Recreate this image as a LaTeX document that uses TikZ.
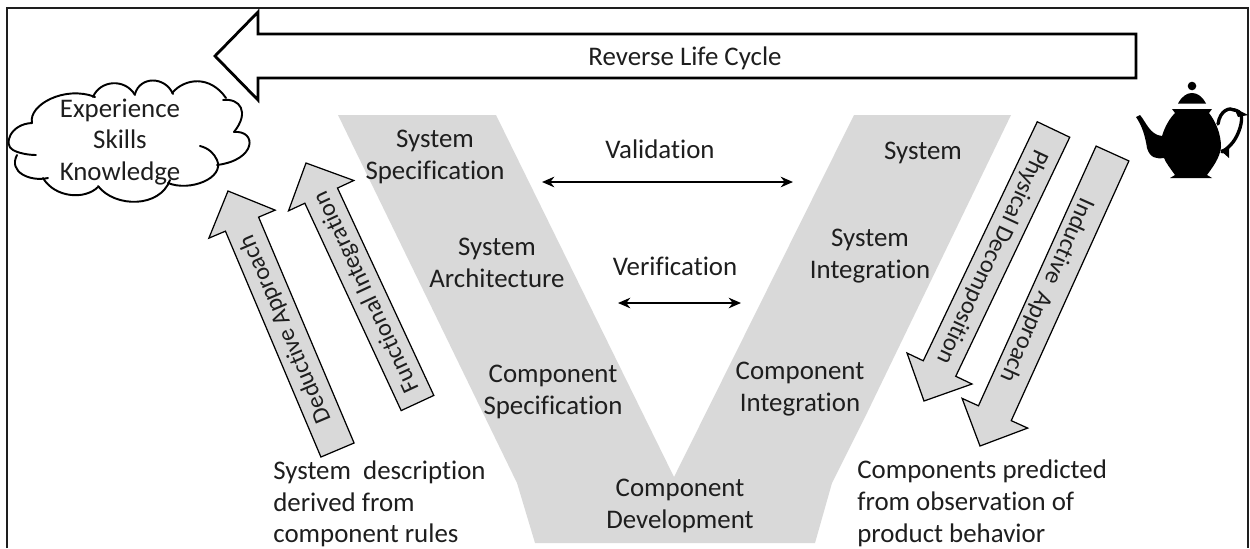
\documentclass[tikz,border=0pt]{standalone}
\usepackage{fontspec}
\setmainfont[Ligatures=CommonOff]{Carlito}
\usetikzlibrary{calc,arrows.meta}
\definecolor{vgrey}{HTML}{D9D9D9}
\definecolor{inkdark}{HTML}{1E1E1E}
\tikzset{
    lbl/.style={font=\fontsize{15.3}{18.1}\selectfont, text=inkdark, align=center, inner sep=0pt},
    lblleft/.style={lbl, align=left, anchor=west},
    lblslant/.style={lbl, font=\fontsize{13.9}{15}\selectfont},
    twohead/.style={{Stealth[length=7pt,width=6pt]}-{Stealth[length=7pt,width=6pt]}, line width=1.1pt, color=black},
    lobe/.style={line width=1.1pt, color=black, line cap=round},
}
\begin{document}
\begin{tikzpicture}[x=0.02cm, y=-0.02cm]

    \useasboundingbox (0,0) rectangle (1250,548);

    % Freccia grigia: coda, punta
    \newcommand{\greyarrow}[3]{
        \coordinate (#1-t) at #2;
        \coordinate (#1-p) at #3;
        \coordinate (#1-n) at ($(#1-p)!0.72cm!(#1-t)$);
        \draw[fill=vgrey, line width=0.7pt, line join=miter]
            ($(#1-t)!0.36cm!90:(#1-p)$) -- ($(#1-n)!0.36cm!-90:(#1-t)$)
            -- ($(#1-n)!0.72cm!-90:(#1-t)$) -- (#1-p)
            -- ($(#1-n)!0.72cm!90:(#1-t)$) -- ($(#1-n)!0.36cm!90:(#1-t)$)
            -- ($(#1-t)!0.36cm!-90:(#1-p)$) -- cycle;
    }

    % -- Cornice, aperta in basso --
    \draw[line width=1.2pt, color=inkdark] (7,548) -- (7,8) -- (1248,8) -- (1248,548);

    % -- La V grigia --
    \fill[vgrey] (338,115) -- (496,115) -- (674,477) -- (854,115) -- (1011,115)
                 -- (867,413) -- (832,483) -- (815,543) -- (535,543) -- (517,483) -- cycle;

    % -- Freccia superiore --
    \draw[line width=1.6pt, line join=miter, fill=white] (1136,34) -- (258,34) -- (258,12) -- (215,56)
          -- (258,100) -- (258,78) -- (1136,78) -- cycle;
    \node[lbl] (reverse) at (685,58.5) {Reverse Life Cycle};

    % -- Nuvola --
    \draw[lobe] (32,123) .. controls (10,124) and (3,145) .. (13,150) .. controls (18,153) and (28,155) .. (36,155);
    \draw[lobe] (17,155) .. controls (8,172) and (30,182) .. (48,178);
    \draw[lobe] (43,178) .. controls (55,198) and (85,200) .. (98,187);
    \draw[lobe] (98,186) .. controls (115,208) and (160,208) .. (170,180);
    \draw[lobe] (168,183) .. controls (190,192) and (225,178) .. (217,160) .. controls (214,153) and (208,148) .. (200,146);
    \draw[lobe] (217,165) .. controls (257,160) and (257,130) .. (234,132);
    \draw[lobe] (234,132) .. controls (250,112) and (240,98) .. (223,100);
    \draw[lobe] (226,98) .. controls (210,75) and (185,78) .. (172,93);
    \draw[lobe] (173,94) .. controls (165,76) and (140,76) .. (135,94);
    \draw[lobe] (135,95) .. controls (125,78) and (100,80) .. (93,97);
    \draw[lobe] (95,97) .. controls (65,85) and (28,105) .. (32,123);
    \node[lbl] (cloudtext) at (120,142) {Experience\\Skills\\Knowledge};

    % -- Frecce grigie --
    \greyarrow{deductive}{(337.5,450)}{(228,191)}
    \greyarrow{functional}{(417.5,403)}{(306,163)}
    \greyarrow{physical}{(1053.5,129.5)}{(924,401)}
    \greyarrow{inductive}{(1112.5,153.5)}{(980,446)}

    \node[lblslant, rotate=113] (deductivetext) at (286,329) {Deductive Approach};
    \node[lblslant, rotate=115] (functionaltext) at (367,292) {Functional Integration};
    \node[lblslant, rotate=-115] (physicaltext) at (992,257) {Physical Decomposition};
    \node[lblslant, rotate=-114] (inductivetext) at (1047,290) {Inductive\ \ Approach};

    % -- Etichette sulla V --
    \node[lbl] (sysspec) at (435,157) {System\\Specification};
    \node[lbl] (sysarch) at (497,263) {System\\Architecture};
    \node[lbl] (compspec) at (553,392) {Component\\Specification};
    \node[lbl] (compdev) at (680,506) {Component\\Development};
    \node[lbl] (compint) at (800,389) {Component\\Integration};
    \node[lbl] (sysint) at (870,256) {System\\Integration};
    \node[lbl] (system) at (923,153) {System};

    % -- Validazione e verifica --
    \node[lbl] (validation) at (660,149) {Validation};
    \node[lbl] (verification) at (675,266) {Verification};
    \coordinate (valleft) at (542,182);
    \coordinate (valright) at (793,182);
    \coordinate (verleft) at (618,303);
    \coordinate (verright) at (741,303);
    \draw[twohead] (valleft) -- (valright);
    \draw[twohead] (verleft) -- (verright);

    % -- Testi in basso --
    \node[lblleft] (sysdesc) at (273,504) {System\ \ description\\derived from\\component rules};
    \node[lblleft] (comppred) at (857,503.5) {Components predicted\\from observation of\\product behavior};

    % -- Teiera --
    \fill (1192,86) circle (4.3);
    \fill (1178,103.5) .. controls (1182,96) and (1187,93) .. (1192,93)
          .. controls (1197,93) and (1202,96) .. (1206,103.5) -- cycle;
    \fill (1172,109) -- (1212,109) -- (1209,113) .. controls (1216,122) and (1221,134) .. (1221,147)
          .. controls (1220,158) and (1212,168) .. (1207,175) -- (1212,178) -- (1170,178) -- (1175,175)
          .. controls (1170,168) and (1166,163) .. (1164,158)
          .. controls (1156,159) and (1150,158) .. (1147,148)
          .. controls (1145,135) and (1142,126) .. (1136,117) -- (1140,115)
          .. controls (1146,122) and (1150,135) .. (1162,136)
          .. controls (1165,126) and (1170,118) .. (1175,113) -- cycle;
    \draw[line width=1.9pt, line cap=round] (1218,124) .. controls (1220,110) and (1230,107) .. (1234,110)
          .. controls (1242,111) and (1243,117) .. (1240,128) .. controls (1236,140) and (1231,146) .. (1222,152);
    \fill (1234,108) -- (1248,115) -- (1238,117) -- cycle;
    \fill (1220,150) -- (1229,147) -- (1229,158) -- cycle;

\end{tikzpicture}
\end{document}
